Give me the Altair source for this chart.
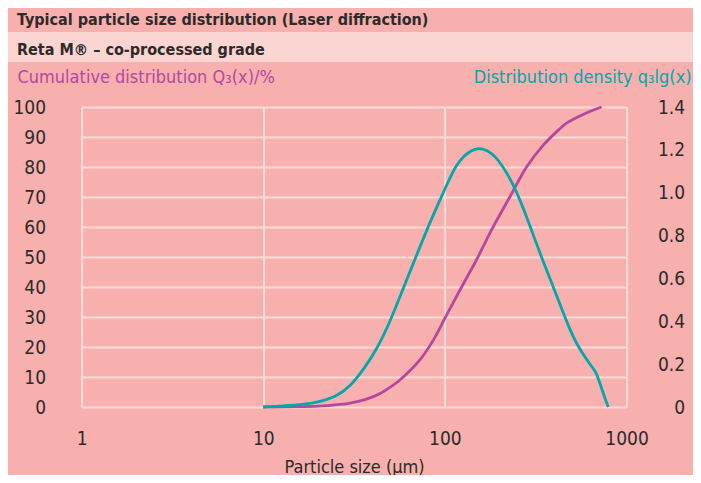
import altair as alt
import pandas as pd

# Cumulative distribution Q3(x) in %
size_cum = [10, 15, 20, 25, 30, 37, 44, 50, 56.5, 72.8, 86.3, 100, 121, 149, 184.5, 228, 282, 348, 421, 467, 580, 728]
q3_cum = [0, 0.1, 0.3, 0.7, 1.3, 2.6, 4.5, 6.6, 9, 15.7, 22.3, 29.6, 39, 49, 60.1, 70.1, 80.1, 87.3, 92.3, 94.6, 97.6, 100]

# Distribution density q3lg(x)
size_den = [10, 15, 19.7, 25.3, 30, 35.5, 42, 50, 56.5, 67, 79.3, 93.8, 106.6, 115, 126, 140, 152, 170, 193,
            238, 282, 333, 395, 487, 531, 603, 677, 690, 713, 750, 792]
q3_den = [0, 0.008, 0.02, 0.048, 0.095, 0.173, 0.266, 0.40, 0.515, 0.67, 0.826, 0.965, 1.07, 1.125, 1.17, 1.197,
          1.21, 1.20, 1.168, 1.044, 0.888, 0.717, 0.561, 0.359, 0.295, 0.219, 0.165, 0.145, 0.111, 0.055, 0]

x_ticks = [1, 10, 100, 1000]
left_ticks = [0, 10, 20, 30, 40, 50, 60, 70, 80, 90, 100]
right_ticks = [0, 0.2, 0.4, 0.6, 0.8, 1.0, 1.2, 1.4]

MAG = "#b5489e"
TEAL = "#00a7ab"
BG = "#f7b0ae"
BAND = "#fad5d1"
GRID = "#fcdcd8"
TXT = "#2e2a2a"
FONT = "'Liberation Sans Narrow', 'DejaVu Sans Condensed', sans-serif"

df_c = pd.DataFrame({"size": size_cum, "Q3": q3_cum})
df_d = pd.DataFrame({"size": size_den, "q3": q3_den})

xscale = alt.Scale(type="log", domain=[1, 1000])
x_axis = alt.Axis(values=x_ticks, title="Particle size (µm)", grid=True, gridColor=GRID,
                  gridWidth=2, gridOpacity=1, domain=False, ticks=False, labelPadding=22,
                  labelFontSize=19, labelColor=TXT, labelFont=FONT, labelFlush=False,
                  labelExpr="format(datum.value, 'd')",
                  titleFont=FONT, titleFontSize=18, titleFontWeight="normal", titleColor=TXT,
                  titleY=60, titleBaseline="middle")

band = alt.Chart(pd.DataFrame({"a": [0]})).mark_rect(color=BAND).encode(
    x=alt.value(-73.6), x2=alt.value(611.4), y=alt.value(-75), y2=alt.value(-45)
)

cum = alt.Chart(df_c).mark_line(color=MAG, strokeWidth=2.8, interpolate="catmull-rom").encode(
    x=alt.X("size:Q", scale=xscale, axis=x_axis),
    y=alt.Y("Q3:Q", scale=alt.Scale(domain=[0, 100]),
            axis=alt.Axis(values=left_ticks, orient="left", title="Cumulative distribution Q₃(x)/%",
                          grid=True, gridColor=GRID, gridWidth=2, gridOpacity=1, domain=False,
                          ticks=False, labelPadding=36, labelFontSize=19, labelColor=TXT,
                          labelFont=FONT, labelFlush=False,
                          titleAngle=0, titleAlign="left", titleBaseline="middle", titleX=-64.6,
                          titleY=-30, titleColor=MAG, titleFont=FONT, titleFontSize=18,
                          titleFontWeight="normal")),
)

den = alt.Chart(df_d).mark_line(color=TEAL, strokeWidth=2.8, interpolate="basis").encode(
    x=alt.X("size:Q", scale=xscale, axis=x_axis),
    y=alt.Y("q3:Q", scale=alt.Scale(domain=[0, 1.4]),
            axis=alt.Axis(values=right_ticks, orient="right", title="Distribution density q₃lg(x)",
                          grid=False, domain=False, ticks=False, labelAlign="right", labelPadding=58,
                          labelFontSize=19, labelColor=TXT, labelFont=FONT, labelFlush=False,
                          labelExpr="datum.value == 0 ? '0' : format(datum.value, '.1f')",
                          titleAngle=0, titleAlign="right", titleBaseline="middle", titleX=64.5,
                          titleY=-30, titleColor=TEAL, titleFont=FONT, titleFontSize=18,
                          titleFontWeight="normal")),
)

chart = alt.layer(band, cum, den).resolve_scale(y="independent").properties(
    width=545,
    height=300,
    autosize=alt.AutoSizeParams(type="none"),
    padding={"left": 73.6, "top": 99, "right": 66.4, "bottom": 68},
    background=BG,
    title=alt.TitleParams(
        text="Typical particle size distribution (Laser diffraction)",
        subtitle="Reta M® – co-processed grade",
        anchor="start", frame="group", dx=-64.6, offset=-26,
        font=FONT, fontSize=16, fontWeight="bold", color=TXT,
        subtitleFont=FONT, subtitleFontSize=16, subtitleFontWeight="bold", subtitleColor=TXT,
        subtitlePadding=14,
    ),
).configure_view(stroke=None)

chart.save("out.html", embed_options={"renderer": "svg", "actions": False})
